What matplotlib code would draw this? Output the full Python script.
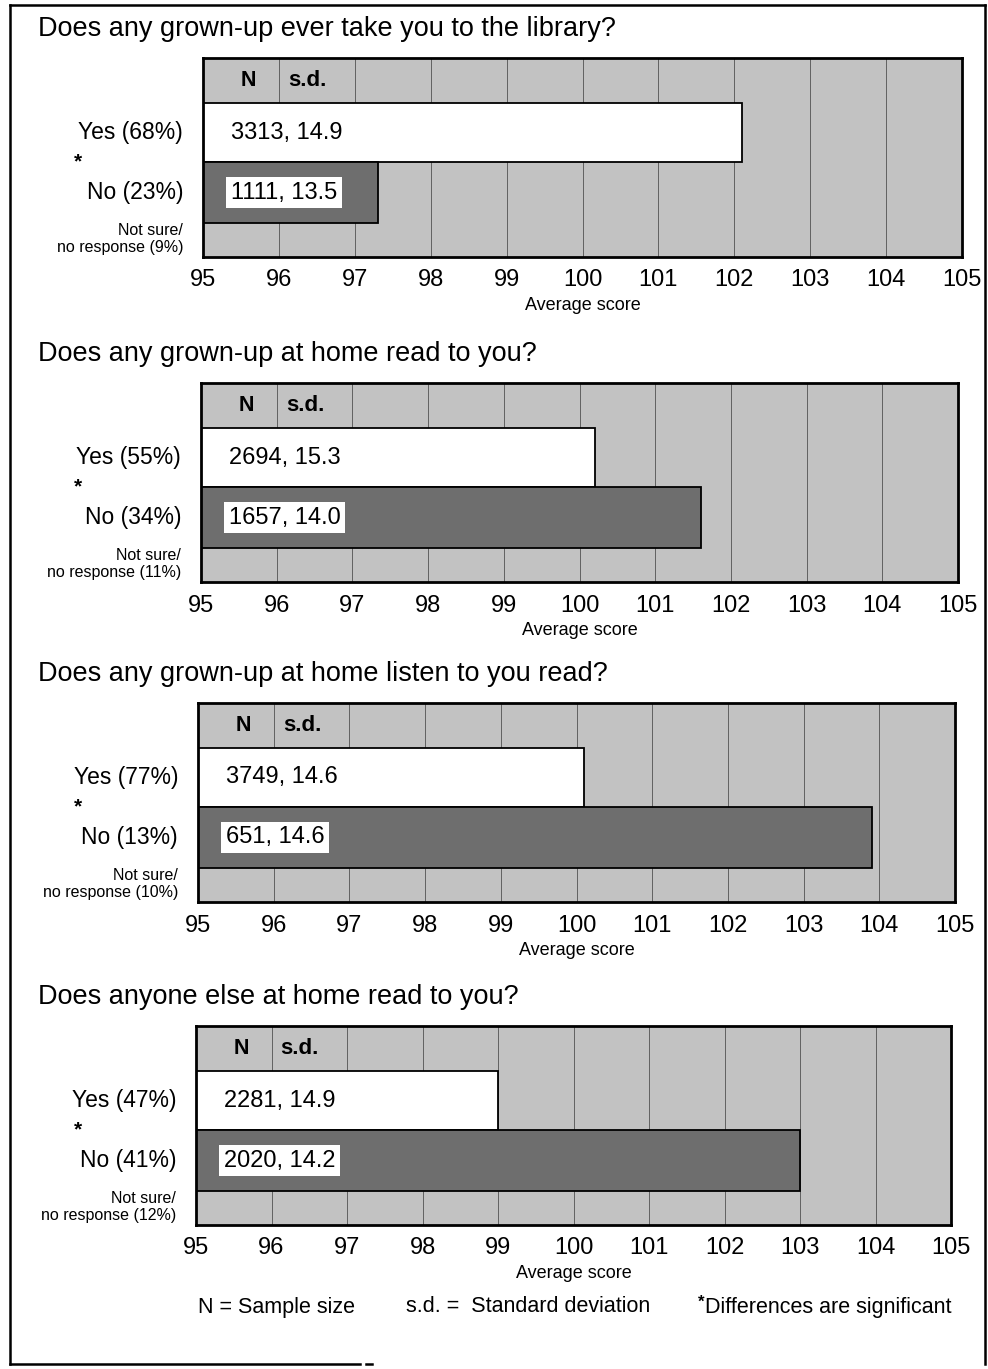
import matplotlib
matplotlib.use("Agg")
import matplotlib.pyplot as plt
from matplotlib.lines import Line2D

plt.rcParams['font.family'] = ['Liberation Sans', 'DejaVu Sans']

questions = [
    "Does any grown-up ever take you to the library?",
    "Does any grown-up at home read to you?",
    "Does any grown-up at home listen to you read?",
    "Does anyone else at home read to you?",
]
yes_pct = [68, 55, 77, 47]
no_pct = [23, 34, 13, 41]
ns_pct = [9, 11, 10, 12]
yes_score = [102.1, 100.2, 100.1, 99.0]
no_score = [97.3, 101.6, 103.9, 103.0]
yes_n = [3313, 2694, 3749, 2281]
yes_sd = [14.9, 15.3, 14.6, 14.9]
no_n = [1111, 1657, 651, 2020]
no_sd = [13.5, 14.0, 14.6, 14.2]
xticks = list(range(95, 106))

W, H = 988, 1369
fig = plt.figure(figsize=(W / 100, H / 100), dpi=100)
fig.patch.set_facecolor('white')

# panel geometry in pixels: left, right, top
panels = [(203, 962, 58), (201, 958, 383), (198, 955, 703), (196, 951, 1026)]
hdr, ybar, nbar, bot = 45, 59, 61, 34
box_h = hdr + ybar + nbar + bot

LIGHT = '#c2c2c2'
DARK = '#6e6e6e'

def fx(px):
    return px / W

def fy(py):
    return 1 - py / H

for i, (L, R, T) in enumerate(panels):
    B = T + box_h
    ax = fig.add_axes([fx(L), fy(B), fx(R - L), (box_h) / H])
    ax.set_facecolor(LIGHT)
    u = nbar
    y_bot = -0.5 - bot / u
    y_yes_c = 0.5 + ybar / u / 2
    y_yes_h = ybar / u
    y_top = 0.5 + ybar / u + hdr / u
    ax.set_xlim(95, 105)
    ax.set_ylim(y_bot, y_top)
    for xv in xticks[1:-1]:
        ax.axvline(xv, color='#606060', lw=0.7, zorder=1)
    ax.barh([y_yes_c], [yes_score[i] - 95], left=95, height=y_yes_h,
            color='white', edgecolor='black', lw=1.3, zorder=2)
    ax.barh([0], [no_score[i] - 95], left=95, height=1.0,
            color=DARK, edgecolor='black', lw=1.3, zorder=2)
    ax.text(95.37, y_yes_c, f"{yes_n[i]}, {yes_sd[i]}", fontsize=17,
            va='center', ha='left', zorder=3)
    ax.text(95.37, 0, f"{no_n[i]}, {no_sd[i]}", fontsize=17,
            va='center', ha='left', zorder=3,
            bbox=dict(boxstyle='square,pad=0.2', fc='white', ec='none'))
    yh = 0.5 + y_yes_h + hdr / u / 2
    ax.text(95.6, yh, "N", fontsize=15.5, fontweight='bold', va='center', ha='center', zorder=3)
    ax.text(96.12, yh, "s.d.", fontsize=16, fontweight='bold', va='center', ha='left', zorder=3)

    ax.set_xticks(xticks)
    ax.set_xticklabels([str(t) for t in xticks], fontsize=17)
    ax.set_yticks([])
    ax.tick_params(axis='x', length=0, pad=9)
    for sp in ax.spines.values():
        sp.set_linewidth(2)
        sp.set_color('black')
    ax.set_xlabel("Average score", fontsize=13, labelpad=4)

    tr = ax.get_yaxis_transform()
    lx = -20 / (R - L)
    ax.text(lx, y_yes_c, f"Yes ({yes_pct[i]}%)", transform=tr, ha='right',
            va='center', fontsize=16.5)
    ax.text(lx, 0, f"No ({no_pct[i]}%)", transform=tr, ha='right',
            va='center', fontsize=16.5)
    ax.text(-(L - 78) / (R - L), 0.5 + 0.0, "*", transform=tr, ha='center',
            va='center', fontsize=15, fontweight='bold')
    ax.text(lx, y_bot + 0.78 * bot / u, "Not sure/", transform=tr, ha='right',
            va='center', fontsize=11.5)
    ax.text(lx, y_bot + 0.28 * bot / u, f"no response ({ns_pct[i]}%)", transform=tr,
            ha='right', va='center', fontsize=11.5)

    fig.text(fx(38), fy(T - 29), questions[i], fontsize=19.5, ha='left', va='center')

# footer
fig.text(fx(198), fy(1307), "N = Sample size", fontsize=15.5, ha='left', va='center')
fig.text(fx(406), fy(1307), "s.d. =  Standard deviation", fontsize=15.5, ha='left', va='center')
fig.text(fx(698), fy(1302), "*", fontsize=12, fontweight='bold', ha='left', va='center')
fig.text(fx(705), fy(1307), "Differences are significant", fontsize=15.5, ha='left', va='center')

# outer frame
def fline(x0, y0, x1, y1, lw=1.8):
    fig.add_artist(Line2D([fx(x0), fx(x1)], [fy(y0), fy(y1)], color='black', lw=lw))

fline(10, 5, 985, 5)
fline(10, 5, 10, 1364)
fline(985, 5, 985, 1364)
fline(10, 1364, 360, 1364)
fline(366, 1364, 372, 1364)

fig.savefig("out.png", dpi=100)
